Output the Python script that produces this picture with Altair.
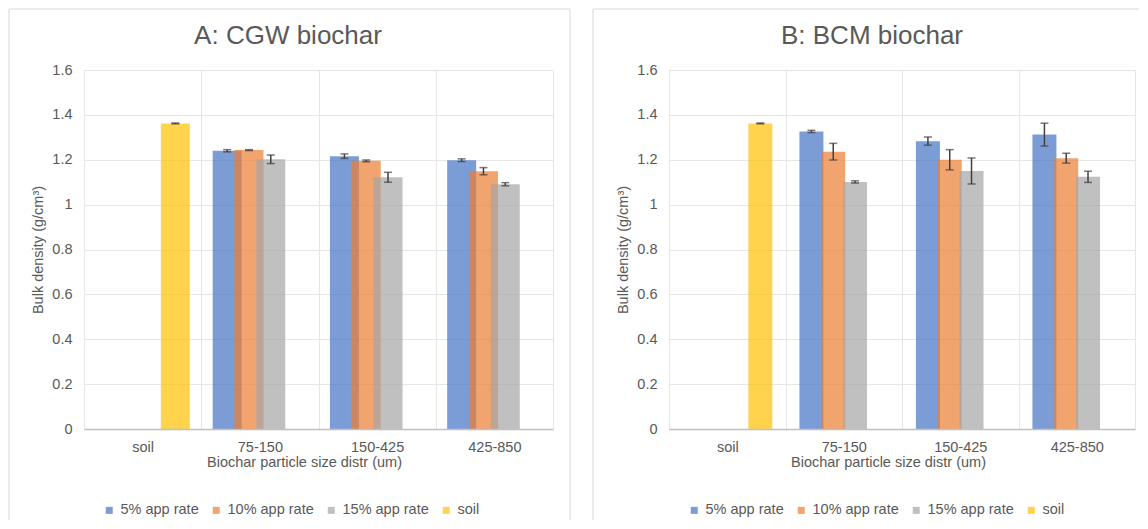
import altair as alt
import pandas as pd

FONT = "Liberation Sans"
TXT = "#595959"

categories = ["soil", "75-150", "150-425", "425-850"]
size_cats = ["75-150", "150-425", "425-850"]
series = ["5% app rate", "10% app rate", "15% app rate", "soil"]
colors = ["#4472C4", "#ED7D31", "#A5A5A5", "#FFC000"]
y_ticks = [0, 0.2, 0.4, 0.6, 0.8, 1.0, 1.2, 1.4, 1.6]

# Panel A: CGW biochar
a_soil = 1.362
a_soil_err = 0.002
a_5 = [1.240, 1.216, 1.198]
a_5_err = [0.005, 0.010, 0.006]
a_10 = [1.243, 1.195, 1.149]
a_10_err = [0.002, 0.004, 0.016]
a_15 = [1.202, 1.122, 1.091]
a_15_err = [0.019, 0.022, 0.007]

# Panel B: BCM biochar
b_soil = 1.362
b_soil_err = 0.002
b_5 = [1.326, 1.283, 1.312]
b_5_err = [0.005, 0.018, 0.051]
b_10 = [1.236, 1.200, 1.207]
b_10_err = [0.037, 0.045, 0.022]
b_15 = [1.101, 1.150, 1.124]
b_15_err = [0.005, 0.058, 0.025]


def build_df(soil, soil_err, s5, e5, s10, e10, s15, e15):
    rows = [dict(cat="soil", series="soil", value=soil, err=soil_err)]
    for name, vals, errs in [(series[0], s5, e5), (series[1], s10, e10), (series[2], s15, e15)]:
        for c, v, e in zip(size_cats, vals, errs):
            rows.append(dict(cat=c, series=name, value=v, err=e))
    df = pd.DataFrame(rows)
    df["lo"] = df["value"] - df["err"]
    df["hi"] = df["value"] + df["err"]
    return df


XTITLE = "Biochar particle size distr (um)"
YTITLE = "Bulk density (g/cm³)"
FRAME = "#d9d9d9"
ERR = "#404040"
GRID = "#e6e6e6"
one = alt.Data(values=[{}])


def vline(xv, y1, y2):
    return alt.Chart(one).mark_rule(color=FRAME, strokeWidth=1).encode(
        x=alt.value(xv), y=alt.value(y1), y2=alt.value(y2))


def hline(x1, x2, yv):
    return alt.Chart(one).mark_rule(color=FRAME, strokeWidth=1).encode(
        x=alt.value(x1), x2=alt.value(x2), y=alt.value(yv))


def panel(df, title, width, off_pad, bar_w, frame_lines, title_x, axis_title_x):
    xscale = alt.Scale(domain=categories, paddingInner=0, paddingOuter=0)
    xaxis = alt.Axis(title=XTITLE, labelAngle=0, tickBand="extent", grid=True, ticks=False,
                     domainColor="#bfbfbf", domainWidth=1.5, zindex=1, gridColor=GRID,
                     labelFontSize=14.5, labelColor=TXT, labelFont=FONT, labelPadding=11,
                     titleFontSize=14.5, titleColor=TXT, titleFont=FONT, titleFontWeight="normal",
                     titlePadding=2, titleX=axis_title_x)
    yscale = alt.Scale(domain=[0, 1.6], nice=False, zero=True)
    yaxis = alt.Axis(title=YTITLE, values=y_ticks, format="~f", ticks=False, domain=False,
                     grid=True, gridColor=GRID, labelFontSize=14.5, labelColor=TXT,
                     labelFont=FONT, labelPadding=12, titleFontSize=14.5, titleColor=TXT,
                     titleFont=FONT, titleFontWeight="normal", titlePadding=6, zindex=0)
    xo = alt.XOffset("series:N", scale=alt.Scale(domain=series, paddingInner=0, paddingOuter=off_pad))

    base = alt.Chart(df)
    bars = base.mark_bar(opacity=0.7, width=bar_w).encode(
        x=alt.X("cat:N", scale=xscale, axis=xaxis, sort=categories),
        xOffset=xo,
        y=alt.Y("value:Q", scale=yscale, axis=yaxis),
        color=alt.Color("series:N", scale=alt.Scale(domain=series, range=colors),
                        legend=alt.Legend(title=None, orient="none", legendX=18, legendY=433,
                                          direction="horizontal", symbolType="square",
                                          symbolSize=49, symbolStrokeWidth=0, symbolOpacity=0.7,
                                          labelFontSize=14.5, labelColor=TXT, labelFont=FONT,
                                          labelOffset=4, columnPadding=10)),
    )
    rules = base.mark_rule(color=ERR, strokeWidth=1.5).encode(
        x=alt.X("cat:N", title=XTITLE, sort=categories), xOffset="series:N",
        y=alt.Y("lo:Q", title=YTITLE), y2="hi:Q")
    cap_lo = base.mark_tick(color=ERR, thickness=1.5, size=8, orient="horizontal").encode(
        x=alt.X("cat:N", title=XTITLE, sort=categories), xOffset="series:N",
        y=alt.Y("lo:Q", title=YTITLE))
    cap_hi = base.mark_tick(color=ERR, thickness=1.5, size=8, orient="horizontal").encode(
        x=alt.X("cat:N", title=XTITLE, sort=categories), xOffset="series:N",
        y=alt.Y("hi:Q", title=YTITLE))
    ttl = alt.Chart(one).mark_text(text=title, fontSize=26, color=TXT, font=FONT,
                                   align="center", baseline="alphabetic").encode(
        x=alt.value(title_x), y=alt.value(-26))
    return alt.layer(*frame_lines, bars, rules, cap_lo, cap_hi, ttl).properties(
        width=width, height=359)


df_a = build_df(a_soil, a_soil_err, a_5, a_5_err, a_10, a_10_err, a_15, a_15_err)
df_b = build_df(b_soil, b_soil_err, b_5, b_5_err, b_10, b_10_err, b_15, b_15_err)

frame_a = [vline(-75, -61, 450), hline(-75, 486, -61), vline(486, -61, 450)]
frame_b = [vline(-76, -61, 450), hline(-76, 470, -61)]

pa = panel(df_a, "A: CGW biochar", 469, 0.689, 29, frame_a, 204, 220)
pb = panel(df_b, "B: BCM biochar", 466, 0.427, 24, frame_b, 203, 219)

chart = alt.hconcat(pa, pb, spacing=21).resolve_legend(color="independent").properties(
    padding=0, background="white"
).configure_view(stroke=GRID)

chart.save("out.html", embed_options={"renderer": "svg", "actions": False})
